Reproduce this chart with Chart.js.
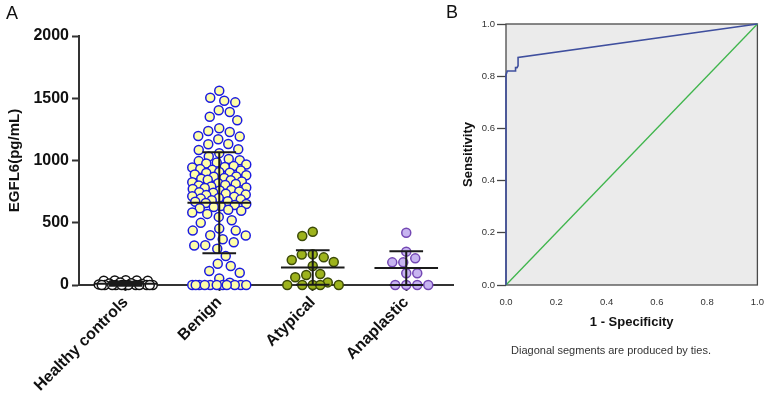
<!DOCTYPE html>
<html><head><meta charset="utf-8">
<script src="https://cdn.jsdelivr.net/npm/chart.js@4.4.1/dist/chart.umd.min.js"></script>
<style>
html,body{margin:0;padding:0;background:#fff;width:776px;height:410px;overflow:hidden}
#a{position:absolute;left:0;top:0}
#b{position:absolute;left:440px;top:0}
</style></head><body>
<canvas id="a" width="460" height="410"></canvas>
<canvas id="b" width="336" height="410"></canvas>
<script>
// ---------- Panel A data ----------
const categories = ['Healthy controls', 'Benign', 'Atypical', 'Anaplastic'];
const healthyValues = [38, 37, 36, 35, 34, 20, 15, 12, 8, 5, 0, 0, 0, 0, 0, 0, 0, 0, 0, 0, 0, 0];
const benignValues = [
  1560, 1504, 1480, 1467, 1403, 1389, 1352, 1323, 1259, 1237, 1229, 1197, 1192, 1171, 1133, 1131, 1091, 1085, 1059, 1032,
  1012, 1003, 995, 983, 976, 968, 955, 948, 944, 931, 925, 919, 908, 902, 899, 887, 881, 872, 869, 860,
  853, 846, 842, 831, 826, 818, 812, 803, 799, 791, 784, 780, 771, 764, 759, 752, 745, 741, 733, 726,
  722, 713, 708, 699, 694, 688, 681, 672, 668, 659, 651, 643, 634, 626, 617, 604, 596, 583, 571,
  547, 520, 499, 453, 437, 437, 400, 397, 368, 344, 320, 317, 291, 232, 171, 152, 112, 99, 53, 19,
  0, 0, 0, 0, 0, 0, 0, 0, 0, 0, 0
];
const atypicalValues = [428, 393, 246, 244, 222, 201, 185, 153, 88, 80, 62, 21, 0, 0, 0, 0, 0];
const anaplasticValues = [420, 268, 214, 182, 182, 94, 94, 0, 0, 0, 0];
const groupMeans = [10, 661, 141, 136];
const groupSD = [16, 405, 139, 136];
const yTicksA = [0, 500, 1000, 1500, 2000];
const yTitleA = 'EGFL6(pg/mL)';

// ---------- Panel B data ----------
const rocFPR = [0, 0, 0.005, 0.038, 0.038, 0.044, 0.048, 0.048, 1];
const rocTPR = [0, 0.805, 0.82, 0.82, 0.833, 0.833, 0.84, 0.872, 1];
const refFPR = [0, 1];
const refTPR = [0, 1];
const rocTicks = [0, 0.2, 0.4, 0.6, 0.8, 1.0];
const xTitleB = '1 - Specificity';
const yTitleB = 'Sensitivity';
const noteB = 'Diagonal segments are produced by ties.';

const FONT = "'Liberation Sans', Arial, Helvetica, sans-serif";

// beeswarm-like horizontal spreading (layout only, in approximate pixels)
function swarm(values, pxPerUnit, pxPerCat, d, W) {
  const order = values.map((v, i) => i).sort((a, b) => values[b] - values[a]);
  const placed = [];
  const off = new Array(values.length);
  let flip = 1;
  for (const i of order) {
    const y = values[i] * pxPerUnit;
    const cands = [0];
    for (let s = 0.5; s <= W + 1e-9; s += 0.5) { cands.push(s * flip, -s * flip); }
    let free = null, best = 0, bestMd = -1;
    for (const x of cands) {
      let md = Infinity;
      for (const p of placed) { const dd = Math.hypot(p.x - x, p.y - y); if (dd < md) md = dd; }
      if (md >= d && free === null) free = x;
      if (md > bestMd + 1e-6) { bestMd = md; best = x; }
    }
    const x = free !== null ? free : best;
    placed.push({ x, y });
    off[i] = x / pxPerCat;
    flip = -flip;
  }
  return off;
}

const PX_PER_UNIT = 249 / 2000, PX_PER_CAT = 93.5;
function groupData(values, idx) {
  const off = swarm(values, PX_PER_UNIT, PX_PER_CAT, 11, 27);
  return values.map((v, j) => ({ x: idx + off[j], y: v }));
}

const errorBars = {
  id: 'errorBars',
  afterDatasetsDraw(chart) {
    const { ctx, scales: { x, y } } = chart;
    ctx.save();
    ctx.strokeStyle = '#1a1a1a';
    ctx.lineWidth = 2;
    groupMeans.forEach((m, i) => {
      const cx = x.getPixelForValue(i);
      const hw = x.getPixelForValue(i + 0.34) - cx;
      const cw = x.getPixelForValue(i + 0.18) - cx;
      const ym = y.getPixelForValue(m);
      const yt = y.getPixelForValue(m + groupSD[i]);
      const yb = y.getPixelForValue(m - groupSD[i]);
      ctx.beginPath();
      ctx.moveTo(cx - hw, ym); ctx.lineTo(cx + hw, ym);
      ctx.moveTo(cx, yt); ctx.lineTo(cx, yb);
      ctx.moveTo(cx - cw, yt); ctx.lineTo(cx + cw, yt);
      ctx.moveTo(cx - cw, yb); ctx.lineTo(cx + cw, yb);
      ctx.stroke();
    });
    ctx.restore();
  }
};

const textA = {
  id: 'textA',
  afterDraw(chart) {
    const { ctx, chartArea } = chart;
    ctx.save();
    ctx.fillStyle = '#111';
    ctx.font = '18px ' + FONT;
    ctx.textAlign = 'center'; ctx.textBaseline = 'middle';
    ctx.fillText('A', 12, 14);
    ctx.font = 'bold 15px ' + FONT;
    ctx.translate(15, (chartArea.top + chartArea.bottom) / 2);
    ctx.rotate(-Math.PI / 2);
    ctx.fillText(yTitleA, 0, 0);
    ctx.restore();
  }
};

const styleA = [
  { bg: '#ffffff', bd: '#111111' },
  { bg: '#ffffa8', bd: '#1b1be0' },
  { bg: '#9db31c', bd: '#3c4a08' },
  { bg: '#c7b4f0', bd: '#7448b4' }
];
const groups = [healthyValues, benignValues, atypicalValues, anaplasticValues];

new Chart(document.getElementById('a'), {
  type: 'scatter',
  data: {
    datasets: groups.map((vals, i) => ({
      label: categories[i],
      data: groupData(vals, i),
      backgroundColor: styleA[i].bg,
      borderColor: styleA[i].bd,
      pointRadius: 4.5,
      pointBorderWidth: 1.5,
      clip: false
    }))
  },
  options: {
    responsive: false,
    animation: false,
    events: [],
    layout: { padding: { top: 36, right: 7, bottom: 0, left: 0 } },
    plugins: { legend: { display: false }, tooltip: { enabled: false } },
    scales: {
      x: {
        type: 'linear', min: -0.5, max: 3.5,
        afterBuildTicks: s => { s.ticks = categories.map((c, i) => ({ value: i })); },
        afterFit: s => { s.height = 125; },
        ticks: {
          autoSkip: false, minRotation: 45, maxRotation: 45, padding: 2,
          color: '#111', font: { family: FONT, size: 16, weight: 'bold' },
          callback: v => categories[v]
        },
        grid: { drawOnChartArea: false, drawTicks: true, tickLength: 6, tickColor: '#333', tickWidth: 2 },
        border: { color: '#333', width: 2 }
      },
      y: {
        min: 0, max: 2000,
        afterBuildTicks: s => { s.ticks = yTicksA.map(v => ({ value: v })); },
        afterFit: s => { s.width = 79; },
        ticks: { padding: 3, color: '#111', font: { family: FONT, size: 16, weight: 'bold' }, callback: v => String(v) },
        grid: { drawOnChartArea: false, drawTicks: true, tickLength: 7, tickColor: '#333', tickWidth: 2 },
        border: { color: '#333', width: 2 }
      }
    }
  },
  plugins: [errorBars, textA]
});

// ---------- Panel B ----------
const frameB = {
  id: 'frameB',
  beforeDraw(chart) {
    const { ctx, chartArea: a } = chart;
    ctx.save();
    ctx.fillStyle = '#ebebeb';
    ctx.fillRect(a.left, a.top, a.right - a.left, a.bottom - a.top);
    ctx.restore();
  },
  beforeDatasetsDraw(chart) {
    const { ctx, chartArea: a } = chart;
    ctx.save();
    ctx.strokeStyle = '#4a4a4a';
    ctx.lineWidth = 1.3;
    ctx.strokeRect(a.left, a.top, a.right - a.left, a.bottom - a.top);
    ctx.restore();
  },
  afterDraw(chart) {
    const { ctx, chartArea: a } = chart;
    ctx.save();
    ctx.fillStyle = '#111';
    ctx.textAlign = 'center'; ctx.textBaseline = 'middle';
    ctx.font = '18px ' + FONT;
    ctx.fillText('B', 12, 13);
    ctx.font = 'bold 13px ' + FONT;
    ctx.fillText(xTitleB, (a.left + a.right) / 2, 322);
    ctx.fillStyle = '#333';
    ctx.font = '11px ' + FONT;
    ctx.fillText(noteB, 171, 351);
    ctx.fillStyle = '#111';
    ctx.font = 'bold 13px ' + FONT;
    ctx.translate(28, (a.top + a.bottom) / 2);
    ctx.rotate(-Math.PI / 2);
    ctx.fillText(yTitleB, 0, 0);
    ctx.restore();
  }
};

new Chart(document.getElementById('b'), {
  type: 'scatter',
  data: {
    datasets: [
      {
        label: 'ROC',
        data: rocFPR.map((v, i) => ({ x: v, y: rocTPR[i] })),
        showLine: true, borderColor: '#3f4f9e', borderWidth: 1.6,
        pointRadius: 0, tension: 0, clip: 3
      },
      {
        label: 'Reference',
        data: refFPR.map((v, i) => ({ x: v, y: refTPR[i] })),
        showLine: true, borderColor: '#3fb54c', borderWidth: 1.3,
        pointRadius: 0, tension: 0, clip: 3
      }
    ]
  },
  options: {
    responsive: false,
    animation: false,
    events: [],
    layout: { padding: { top: 24, right: 10, bottom: 0, left: 0 } },
    plugins: { legend: { display: false }, tooltip: { enabled: false } },
    scales: {
      x: {
        type: 'linear', min: 0, max: 1,
        afterBuildTicks: s => { s.ticks = rocTicks.map(v => ({ value: v })); },
        afterFit: s => { s.height = 125; },
        ticks: { padding: 12, color: '#333', font: { family: FONT, size: 9.5 }, callback: v => v.toFixed(1) },
        grid: { display: true, drawOnChartArea: false, drawTicks: false },
        border: { display: false }
      },
      y: {
        min: 0, max: 1,
        afterBuildTicks: s => { s.ticks = rocTicks.map(v => ({ value: v })); },
        afterFit: s => { s.width = 66; },
        ticks: { padding: 2, color: '#333', font: { family: FONT, size: 9.5 }, callback: v => v.toFixed(1) },
        grid: { drawOnChartArea: false, drawTicks: true, tickLength: 9, tickColor: '#444', tickWidth: 1.3 },
        border: { display: false }
      }
    }
  },
  plugins: [frameB]
});
</script>
</body></html>
